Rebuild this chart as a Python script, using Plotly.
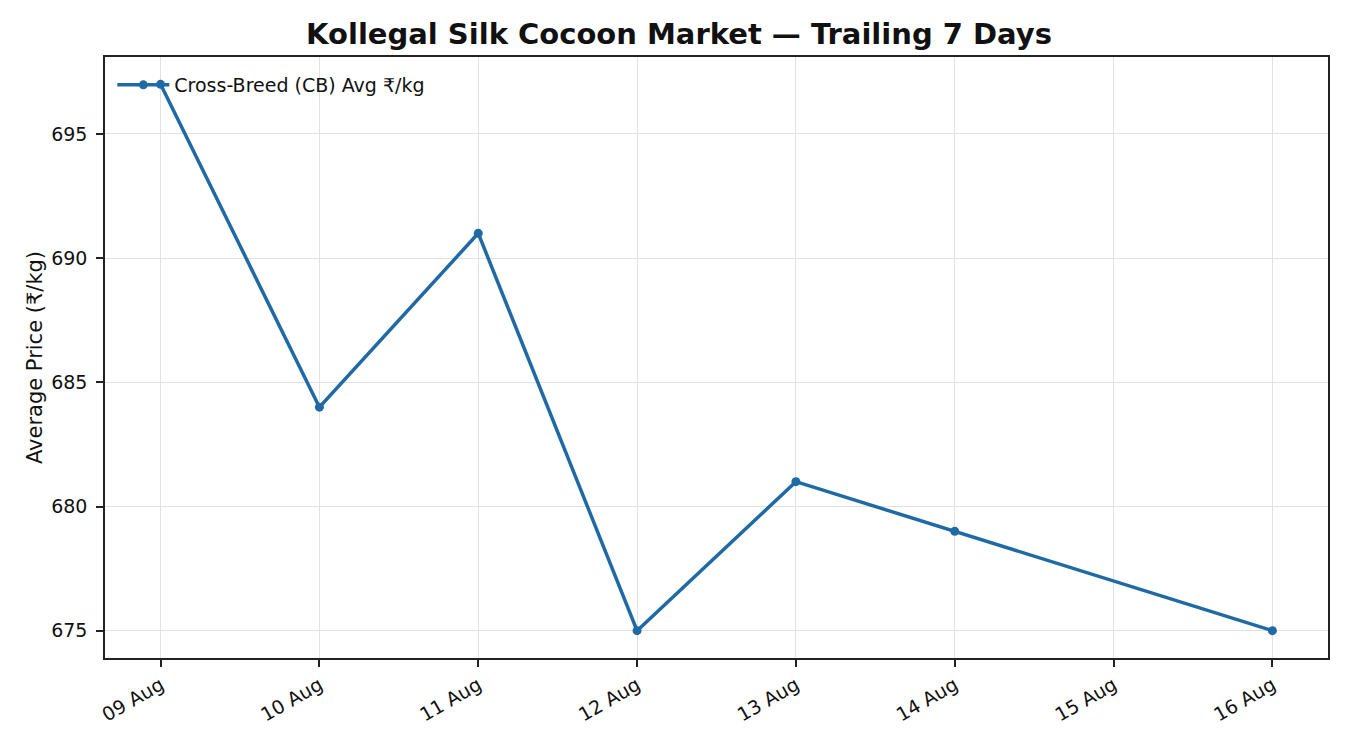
import plotly.graph_objects as go

# Daily average CB cocoon price (no market on 15 Aug)
dates = ["2024-08-09", "2024-08-10", "2024-08-11", "2024-08-12",
         "2024-08-13", "2024-08-14", "2024-08-16"]
avg_price = [697, 684, 691, 675, 681, 679, 675]

tick_dates = ["2024-08-09", "2024-08-10", "2024-08-11", "2024-08-12",
              "2024-08-13", "2024-08-14", "2024-08-15", "2024-08-16"]
tick_labels = ["09 Aug", "10 Aug", "11 Aug", "12 Aug",
               "13 Aug", "14 Aug", "15 Aug", "16 Aug"]

FONT = "DejaVu Sans"
BLUE = "#1f6aa5"

fig = go.Figure()
fig.add_trace(go.Scatter(
    x=dates, y=avg_price, mode="lines+markers",
    name="Cross-Breed (CB) Avg ₹/kg",
    line=dict(color=BLUE, width=3.5),
    marker=dict(color=BLUE, size=9),
))

axis_common = dict(
    showline=True, linecolor="#222", linewidth=1.6, mirror=True,
    ticks="outside", ticklen=7, tickwidth=1.5, tickcolor="#222",
    showgrid=True, gridcolor="#e2e2e2", gridwidth=1.2,
    zeroline=False, tickfont=dict(family=FONT, size=19, color="#111"),
)

fig.update_xaxes(
    type="date",
    range=["2024-08-08 15:36", "2024-08-16 08:24"],
    tickvals=tick_dates, ticktext=tick_labels, tickangle=-30,
    **axis_common,
)
fig.update_yaxes(
    range=[673.9, 698.1], tickvals=[675, 680, 685, 690, 695],
    ticklabelstandoff=5,
    title=dict(text="Average Price (₹/kg)", font=dict(family=FONT, size=21, color="#111"),
               standoff=3),
    **axis_common,
)

# the page adds an 8px body margin, so the figure is sized to fit the window
fig.update_layout(
    width=1342, height=742,
    margin=dict(l=97, r=22, t=49, b=92),
    paper_bgcolor="white", plot_bgcolor="white",
    title=dict(text="<b>Kollegal Silk Cocoon Market — Trailing 7 Days</b>",
               x=0.5, xanchor="center", y=0.979, yanchor="top",
               font=dict(family=FONT, size=29, color="#111")),
    legend=dict(x=0.006, y=0.985, xanchor="left", yanchor="top",
                bgcolor="rgba(255,255,255,0)", borderwidth=0,
                itemwidth=52,
                font=dict(family=FONT, size=19, color="#111")),
    showlegend=True,
    font=dict(family=FONT),
)

fig.write_html("out.html")
